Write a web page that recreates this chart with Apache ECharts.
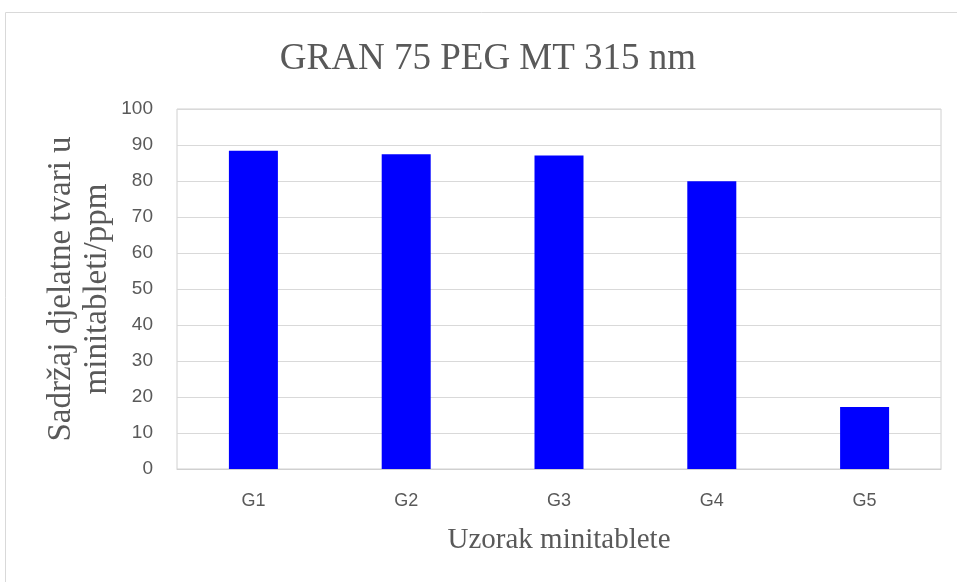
<!DOCTYPE html>
<html>
<head>
<meta charset="utf-8">
<script src="https://cdn.jsdelivr.net/npm/echarts@6/dist/echarts.min.js"></script>
<style>
  html, body { margin: 0; padding: 0; background: #fff; }
  #chart { width: 957px; height: 582px; }
</style>
</head>
<body>
<div id="chart"></div>
<script>
var categories = ['G1', 'G2', 'G3', 'G4', 'G5'];
var values = [88.4, 87.4, 87.1, 79.9, 17.2];
var yTicks = { min: 0, max: 100, interval: 10 };

var myChart = echarts.init(document.getElementById('chart'));
var option = {
  animation: false,
  graphic: [{
    type: 'rect',
    shape: { x: 5.5, y: 12.5, width: 960, height: 600 },
    style: { fill: 'none', stroke: '#d9d9d9', lineWidth: 1 },
    silent: true
  }],
  title: {
    text: 'GRAN 75 PEG MT 315 nm',
    left: 483,
    top: 36,
    textAlign: 'center',
    textStyle: {
      fontFamily: 'Liberation Serif',
      fontWeight: 'normal',
      fontSize: 37,
      color: '#595959'
    }
  },
  grid: {
    left: 177,
    right: 16,
    top: 109,
    bottom: 113,
    show: true,
    borderColor: '#d0d0d0',
    borderWidth: 1
  },
  xAxis: {
    type: 'category',
    data: categories,
    name: 'Uzorak minitablete',
    nameLocation: 'middle',
    nameGap: 57,
    nameTextStyle: { fontFamily: 'Liberation Serif', fontSize: 29, color: '#595959' },
    axisLine: { lineStyle: { color: '#d0d0d0' } },
    axisTick: { show: false },
    axisLabel: { fontFamily: 'Liberation Sans', fontSize: 18, color: '#595959', margin: 23 }
  },
  yAxis: {
    type: 'value',
    min: yTicks.min,
    max: yTicks.max,
    interval: yTicks.interval,
    name: 'Sadržaj djelatne tvari u\nminitableti/ppm',
    nameLocation: 'middle',
    nameGap: 62,
    nameMoveOverlap: false,
    nameTextStyle: { fontFamily: 'Liberation Serif', fontSize: 33, color: '#595959', lineHeight: 36 },
    axisLine: { show: false },
    axisTick: { show: false },
    splitLine: { lineStyle: { color: '#d9d9d9', width: 1 } },
    axisLabel: { fontFamily: 'Liberation Sans', fontSize: 19, color: '#595959', margin: 24 }
  },
  series: [{
    type: 'bar',
    data: values,
    barWidth: 49,
    itemStyle: { color: '#0000ff' }
  }]
};
myChart.setOption(option);
</script>
</body>
</html>
